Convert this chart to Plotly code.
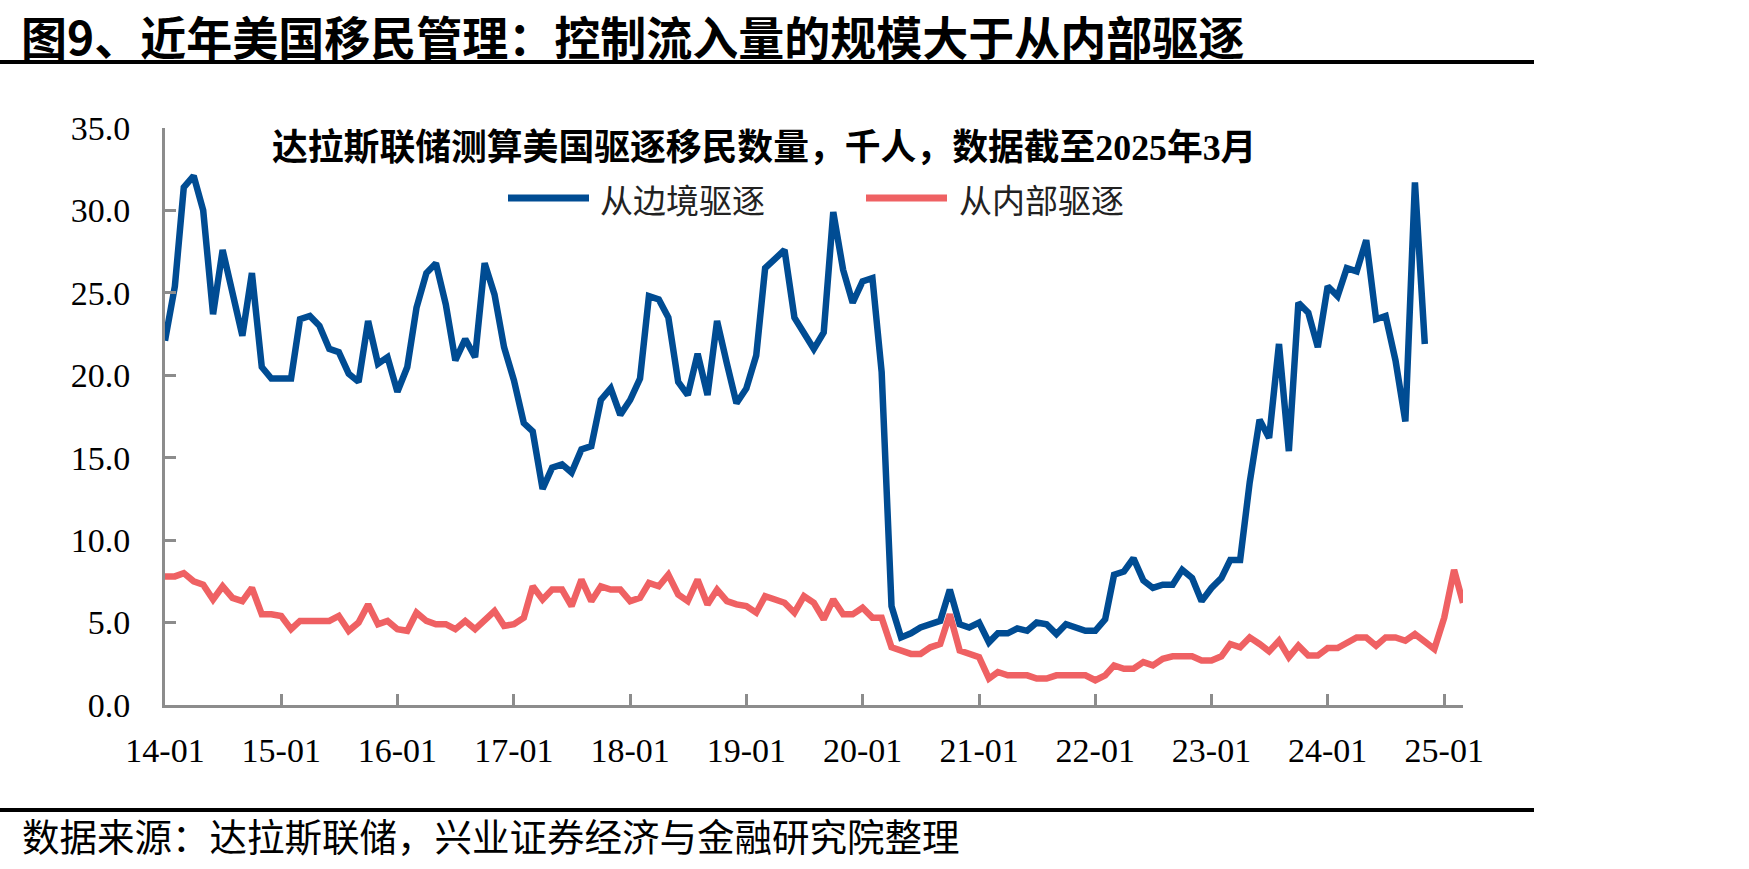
import pandas as pd
import plotly.graph_objects as go

W, H = 1749, 869
# plot area in pixels
PL, PR, PT, PB = 165, 1463, 128, 705

months = pd.date_range("2014-01-01", periods=135, freq="MS")
tick_labels_fmt = "%y-%m"

border = [
    22.1, 25.4, 31.4, 32.1, 30.0, 23.7, 27.6, 25.0, 22.4, 26.2, 20.5, 19.8,
    19.8, 19.8, 23.4, 23.6, 23.0, 21.6, 21.4, 20.1, 19.6, 23.3, 20.7, 21.1,
    19.0, 20.5, 24.1, 26.2, 26.8, 24.3, 20.9, 22.2, 21.1, 26.8, 24.9, 21.7,
    19.7, 17.1, 16.6, 13.1, 14.4, 14.6, 14.1, 15.5, 15.7, 18.5, 19.2, 17.6,
    18.5, 19.8, 24.8, 24.6, 23.5, 19.6, 18.8, 21.3, 18.8, 23.3, 20.7, 18.3,
    19.2, 21.2, 26.5, 27.0, 27.6, 23.5, 22.6, 21.6, 22.6, 29.9, 26.4, 24.4,
    25.7, 25.9, 20.2, 6.0, 4.1, 4.35, 4.7, 4.9, 5.1, 7.0, 4.9, 4.7,
    5.0, 3.8, 4.35, 4.35, 4.65, 4.5, 5.0, 4.9, 4.3, 4.9, 4.7, 4.5,
    4.5, 5.2, 7.9, 8.1, 8.9, 7.55, 7.1, 7.3, 7.3, 8.2, 7.7, 6.3,
    7.1, 7.7, 8.8, 8.8, 13.5, 17.3, 16.2, 21.9, 15.4, 24.4, 23.8, 21.7,
    25.4, 24.8, 26.5, 26.3, 28.2, 23.4, 23.6, 20.9, 17.2, 31.7, 21.9,
]

interior = [
    7.8, 7.8, 8.0, 7.5, 7.3, 6.4, 7.2, 6.5, 6.3, 7.1, 5.5, 5.5,
    5.4, 4.6, 5.1, 5.1, 5.1, 5.1, 5.4, 4.5, 5.0, 6.1, 4.9, 5.1,
    4.6, 4.5, 5.6, 5.1, 4.9, 4.9, 4.6, 5.1, 4.6, 5.2, 5.7, 4.8,
    4.9, 5.3, 7.2, 6.4, 7.0, 7.0, 6.0, 7.6, 6.3, 7.2, 7.0, 7.0,
    6.3, 6.5, 7.4, 7.2, 7.9, 6.7, 6.3, 7.6, 6.1, 7.0, 6.3, 6.1,
    6.0, 5.6, 6.6, 6.4, 6.2, 5.6, 6.6, 6.2, 5.2, 6.4, 5.5, 5.5,
    5.9, 5.3, 5.3, 3.5, 3.3, 3.1, 3.1, 3.5, 3.7, 5.5, 3.3, 3.1,
    2.9, 1.6, 2.0, 1.8, 1.8, 1.8, 1.6, 1.6, 1.8, 1.8, 1.8, 1.8,
    1.5, 1.8, 2.4, 2.2, 2.2, 2.6, 2.4, 2.8, 2.95, 2.95, 2.95, 2.7,
    2.7, 2.95, 3.7, 3.5, 4.1, 3.7, 3.25, 3.9, 2.9, 3.6, 3.0, 3.0,
    3.45, 3.45, 3.8, 4.1, 4.1, 3.6, 4.1, 4.1, 3.9, 4.3, 3.85, 3.4,
    5.3, 8.2, 6.2,
]

series_names = ["从边境驱逐", "从内部驱逐"]
title_text = "图9、近年美国移民管理：控制流入量的规模大于从内部驱逐"
subtitle_text = "<b>达拉斯联储测算美国驱逐移民数量，千人，数据截至2025年3月</b>"
source_text = "数据来源：达拉斯联储，兴业证券经济与金融研究院整理"

BLUE = "#004C93"
RED = "#EF6163"
AXIS = "#8C8C8C"
CJK = "Noto Sans CJK SC"
SERIF = "Liberation Serif"


def px_x(p):
    return (p - PL) / (PR - PL)


def px_y(p):
    return (PB - p) / (PB - PT)


fig = go.Figure()
fig.add_trace(go.Scatter(x=months[:len(border)], y=border, mode="lines",
                         name=series_names[0], showlegend=False,
                         line=dict(color=BLUE, width=6.5)))
fig.add_trace(go.Scatter(x=months[:len(interior)], y=interior, mode="lines",
                         name=series_names[1], showlegend=False,
                         line=dict(color=RED, width=6.5)))

shapes = []
# horizontal rules
shapes.append(dict(type="line", xref="paper", yref="paper",
                   x0=px_x(0), x1=px_x(1534), y0=px_y(62), y1=px_y(62),
                   line=dict(color="black", width=4)))
shapes.append(dict(type="line", xref="paper", yref="paper",
                   x0=px_x(0), x1=px_x(1534), y0=px_y(810), y1=px_y(810),
                   line=dict(color="black", width=4)))
# legend samples
shapes.append(dict(type="line", xref="paper", yref="paper",
                   x0=px_x(508), x1=px_x(589), y0=px_y(198), y1=px_y(198),
                   line=dict(color=BLUE, width=7)))
shapes.append(dict(type="line", xref="paper", yref="paper",
                   x0=px_x(866), x1=px_x(947), y0=px_y(198), y1=px_y(198),
                   line=dict(color=RED, width=7)))

annotations = [
    dict(text="<b>" + title_text + "</b>", xref="paper", yref="paper",
         x=px_x(20), y=px_y(1), xanchor="left", yanchor="top", borderpad=0,
         showarrow=False, font=dict(family=CJK, size=46, color="black")),
    dict(text=subtitle_text, xref="paper", yref="paper",
         x=px_x(270), y=px_y(148), xanchor="left", yanchor="middle",
         showarrow=False, font=dict(family=SERIF + ", " + CJK, size=35.8, color="black")),
    dict(text=series_names[0], xref="paper", yref="paper",
         x=px_x(598), y=px_y(199), xanchor="left", yanchor="middle",
         showarrow=False, font=dict(family=CJK, size=33, color="#222222")),
    dict(text=series_names[1], xref="paper", yref="paper",
         x=px_x(957), y=px_y(199), xanchor="left", yanchor="middle",
         showarrow=False, font=dict(family=CJK, size=33, color="#222222")),
    dict(text=source_text, xref="paper", yref="paper",
         x=px_x(20), y=px_y(835), xanchor="left", yanchor="middle",
         showarrow=False, font=dict(family=CJK, size=37.5, color="black")),
]

fig.update_layout(
    width=W, height=H, autosize=False,
    margin=dict(l=PL, r=W - PR, t=PT, b=H - PB, pad=0),
    paper_bgcolor="white", plot_bgcolor="white",
    showlegend=False,
    shapes=shapes, annotations=annotations,
    xaxis=dict(type="date", range=[months[0], months[-1]],
               tick0=months[0], dtick="M12", tickformat=tick_labels_fmt,
               showgrid=False, zeroline=False,
               showline=True, linecolor=AXIS, linewidth=3,
               ticks="inside", ticklen=11, tickwidth=3, tickcolor=AXIS,
               ticklabelstandoff=13,
               tickfont=dict(family=SERIF, size=34, color="black")),
    yaxis=dict(range=[0, 35], dtick=5, tick0=0, tickformat=".1f",
               showgrid=False, zeroline=False,
               showline=True, linecolor=AXIS, linewidth=3,
               ticks="inside", ticklen=11, tickwidth=3, tickcolor=AXIS,
               ticklabelstandoff=25,
               tickfont=dict(family=SERIF, size=34, color="black")),
)

fig.write_html("out.html")
